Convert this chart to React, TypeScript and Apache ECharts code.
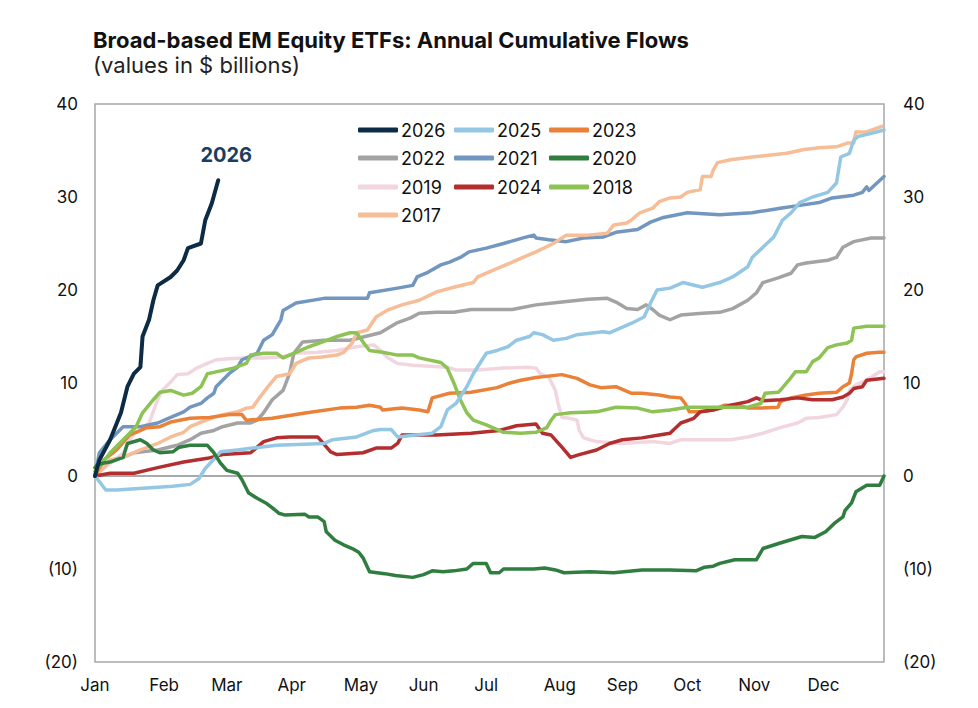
import { useEffect, useRef } from "react";
import * as echarts from "echarts";

type Pt = [number, number];

// day of year, cumulative flows ($bn)
const y2026: Pt[] = [
  [0, 0], [2, 1.7], [7, 3.9], [12, 6.8], [15, 9.6], [18, 11], [21, 11.7], [22, 15],
  [25, 16.8], [27, 18.9], [29, 20.5], [35, 21.4], [38, 22.1], [41, 23.2], [43, 24.5],
  [49, 25], [51, 27.5], [54, 29.3], [57, 31.8],
];

const y2025: Pt[] = [
  [0, 0], [5, -1.5], [10, -1.5], [36, -1.1], [44, -0.9], [48, -0.3], [51, 0.8], [55, 1.8],
  [58, 2.6], [66, 2.8], [73, 3], [84, 3.3], [106, 3.5], [110, 3.9], [121, 4.2], [129, 4.9],
  [132, 5], [137, 5], [140, 4.2], [156, 4.6], [160, 5.3], [163, 7.1], [167, 7.8], [172, 9.6],
  [175, 11], [178, 12.1], [181, 13.2], [186, 13.5], [191, 13.9], [195, 14.6], [201, 15],
  [203, 15.4], [207, 15.2], [212, 14.6], [218, 14.8], [223, 15.2], [235, 15.5], [238, 15.4],
  [243, 15.9], [248, 16.4], [254, 17.1], [257, 18.6], [260, 20], [266, 20.2], [272, 20.8],
  [281, 20.3], [289, 20.8], [295, 21.4], [302, 22.5], [304, 23.5], [309, 24.6], [314, 25.7],
  [318, 27.5], [322, 28.3], [326, 29.4], [332, 30], [339, 30.5], [343, 31.5], [345, 34.3],
  [349, 34.7], [351, 36.1], [353, 36.5], [360, 36.9], [365, 37.2],
];

const y2024: Pt[] = [
  [0, 0], [7, 0.3], [18, 0.3], [29, 0.9], [41, 1.5], [52, 1.9], [59, 2.3], [72, 2.5],
  [78, 3.7], [84, 4.1], [90, 4.2], [103, 4.2], [109, 2.6], [112, 2.3], [124, 2.5], [130, 3],
  [137, 3], [140, 3.5], [142, 4.4], [158, 4.4], [174, 4.6], [187, 4.9], [195, 5.4], [204, 5.6],
  [207, 4.6], [211, 4.4], [216, 3.1], [220, 2], [224, 2.3], [232, 2.8], [238, 3.5], [244, 3.9],
  [253, 4.1], [261, 4.4], [266, 4.6], [271, 5.7], [277, 6.2], [280, 6.9], [286, 7.1],
  [294, 7.6], [302, 8], [306, 8.4], [309, 8.1], [317, 8.2], [325, 8.4], [332, 8.2], [341, 8.2],
  [346, 8.5], [349, 8.9], [351, 9.4], [355, 9.6], [357, 10.3], [361, 10.4], [365, 10.5],
];

const y2023: Pt[] = [
  [0, 0], [4, 1.7], [10, 2.8], [16, 4.4], [24, 5.2], [30, 5.3], [35, 5.8], [44, 6.2],
  [53, 6.3], [62, 6.6], [68, 6.6], [70, 6], [82, 6.2], [98, 6.8], [113, 7.3], [121, 7.4],
  [127, 7.6], [132, 7.4], [133, 7.1], [142, 7.3], [150, 7.1], [154, 6.9], [156, 8.4],
  [164, 8.9], [174, 9], [186, 9.5], [192, 10], [197, 10.3], [204, 10.6], [216, 10.9],
  [223, 10.5], [229, 9.8], [234, 9.5], [241, 9.6], [248, 8.9], [253, 8.9], [261, 8.7],
  [266, 8.5], [271, 8.4], [273, 7.8], [275, 6.9], [280, 6.9], [286, 7.1], [291, 7.6],
  [298, 7.6], [302, 7.3], [308, 7.3], [316, 7.4], [317, 8], [322, 8.4], [329, 8.7],
  [335, 8.9], [343, 9], [346, 9.6], [349, 10], [350, 11], [351, 12.5], [352, 12.8],
  [357, 13.2], [363, 13.3], [365, 13.3],
];

const y2022: Pt[] = [
  [0, 0], [7, 1.7], [13, 2], [18, 2.5], [29, 2.8], [38, 3.3], [44, 3.9], [49, 4.6], [55, 4.9],
  [59, 5.3], [66, 5.7], [72, 5.7], [75, 6], [78, 6.8], [82, 8.2], [87, 9.2], [90, 11],
  [92, 13.2], [96, 14.4], [106, 14.6], [118, 14.6], [132, 15.4], [140, 16.5], [146, 17],
  [150, 17.5], [158, 17.6], [166, 17.6], [174, 17.9], [193, 17.9], [204, 18.4], [216, 18.7],
  [228, 19], [237, 19.1], [241, 18.7], [246, 18], [251, 17.9], [255, 18.4], [258, 17.9],
  [261, 17.3], [266, 16.8], [271, 17.3], [281, 17.5], [289, 17.6], [295, 18], [302, 18.9],
  [306, 19.7], [309, 20.8], [316, 21.3], [322, 21.8], [325, 22.7], [329, 22.9], [339, 23.2],
  [343, 23.5], [346, 24.6], [351, 25.2], [359, 25.6], [365, 25.6],
];

const y2021: Pt[] = [
  [0, 0], [2, 2.5], [7, 3.9], [13, 5.3], [21, 5.3], [29, 5.7], [35, 6.3], [41, 6.9], [44, 7.4],
  [49, 7.8], [52, 8.4], [55, 8.9], [56, 9.6], [59, 10.3], [62, 11], [66, 11.7], [68, 12.5],
  [75, 13.2], [78, 14.6], [82, 15.2], [86, 16.8], [87, 17.8], [93, 18.6], [106, 19.1],
  [126, 19.1], [127, 19.7], [140, 20.2], [147, 20.5], [149, 21.4], [154, 21.9], [160, 22.7],
  [164, 23], [169, 23.5], [173, 24.1], [181, 24.5], [189, 25], [198, 25.6], [203, 25.9],
  [204, 25.6], [210, 25.4], [218, 25.2], [226, 25.6], [235, 25.7], [241, 26.2], [251, 26.5],
  [257, 27.3], [263, 27.8], [274, 28.3], [289, 28.1], [304, 28.3], [317, 28.8], [326, 29.1],
  [335, 29.4], [341, 29.9], [351, 30.2], [355, 30.5], [357, 31.1], [358, 30.7], [365, 32.2],
];

const y2020: Pt[] = [
  [0, 0.9], [1, 1.2], [4, 1.4], [7, 1.5], [13, 2], [15, 3.5], [21, 3.9], [24, 3.5], [27, 2.8],
  [30, 2.5], [36, 2.6], [39, 3.1], [44, 3.3], [52, 3.3], [55, 2.5], [58, 1.4], [61, 0.6],
  [66, 0.3], [68, -0.4], [71, -1.8], [75, -2.4], [79, -2.9], [83, -3.6], [85, -4], [88, -4.2],
  [97, -4.1], [99, -4.4], [103, -4.4], [106, -4.9], [107, -6], [111, -6.9], [115, -7.4],
  [119, -7.8], [122, -8.2], [124, -8.8], [127, -10.3], [134, -10.5], [139, -10.7],
  [147, -10.9], [152, -10.6], [156, -10.2], [161, -10.3], [166, -10.2], [172, -10],
  [175, -9.4], [181, -9.4], [183, -10.4], [187, -10.4], [189, -10], [203, -10], [208, -9.9],
  [213, -10.1], [217, -10.4], [229, -10.3], [240, -10.4], [253, -10.1], [266, -10.1],
  [278, -10.2], [282, -9.8], [286, -9.7], [289, -9.4], [296, -9], [306, -9], [309, -7.8],
  [313, -7.5], [317, -7.2], [327, -6.5], [333, -6.6], [338, -6], [342, -5.1], [346, -4.4],
  [347, -3.7], [350, -2.9], [352, -1.7], [357, -1], [363, -1], [365, 0],
];

const y2019: Pt[] = [
  [0, 0], [13, 2.5], [18, 4.6], [21, 4.9], [25, 5.7], [29, 8.2], [31, 9.2], [35, 10.1],
  [38, 10.9], [43, 11], [47, 11.6], [52, 12.1], [56, 12.5], [62, 12.6], [70, 12.7], [78, 12.7],
  [86, 12.8], [93, 13.2], [103, 13.3], [112, 13.5], [121, 13.9], [129, 14.1], [132, 13.5],
  [135, 12.8], [140, 12.1], [147, 11.9], [163, 11.7], [167, 11.4], [177, 11.4], [189, 11.6],
  [200, 11.7], [204, 11.6], [206, 11], [210, 10.6], [213, 9.2], [214, 8], [216, 6.3],
  [220, 6.2], [223, 6], [224, 4.9], [226, 4.1], [232, 3.7], [243, 3.5], [258, 3.7], [266, 3.5],
  [271, 3.9], [294, 3.9], [302, 4.2], [309, 4.6], [317, 5.2], [325, 5.7], [329, 6.2],
  [335, 6.3], [343, 6.6], [346, 7.4], [348, 8.2], [349, 9.2], [352, 9.8], [357, 10.3],
  [363, 11.2], [365, 11.2],
];

const y2018: Pt[] = [
  [0, 0.5], [2, 1], [7, 2.5], [13, 3.9], [19, 5.3], [22, 6.8], [27, 8.2], [30, 9], [35, 9.2],
  [41, 8.7], [45, 8.9], [49, 9.6], [52, 11], [56, 11.2], [64, 11.6], [70, 12.1], [72, 13],
  [78, 13.2], [84, 13.2], [87, 12.7], [93, 13.3], [99, 13.9], [105, 14.4], [112, 15],
  [118, 15.4], [121, 15.4], [124, 14.4], [127, 13.5], [133, 13.3], [140, 13], [147, 13],
  [150, 12.7], [160, 12.2], [163, 11.6], [166, 10], [169, 8.2], [172, 6.8], [175, 6],
  [181, 5.5], [189, 4.7], [197, 4.6], [204, 4.7], [209, 5.2], [211, 6], [213, 6.6], [220, 6.8],
  [232, 6.9], [241, 7.4], [251, 7.3], [258, 6.9], [266, 7.1], [274, 7.4], [289, 7.4],
  [302, 7.4], [308, 7.8], [310, 8.9], [316, 9], [317, 9.2], [321, 10.3], [324, 11.2],
  [329, 11.2], [332, 12.3], [335, 12.7], [339, 13.8], [343, 14.1], [348, 14.3], [350, 14.6],
  [351, 15.9], [357, 16.1], [365, 16.1],
];

const y2017: Pt[] = [
  [0, 0], [7, 1.7], [13, 2], [21, 2.8], [29, 3.5], [35, 4.2], [41, 4.7], [44, 5.3], [49, 5.8],
  [55, 6.3], [59, 6.6], [66, 6.9], [70, 7.3], [73, 7.4], [76, 8.4], [80, 9.6], [84, 10.7],
  [90, 11], [93, 12.1], [99, 12.7], [105, 12.8], [112, 13], [115, 13.3], [119, 14.3],
  [121, 15.4], [126, 15.7], [130, 17.1], [135, 17.8], [142, 18.4], [150, 18.9], [158, 19.8],
  [166, 20.3], [175, 20.8], [177, 21.4], [184, 22.1], [192, 22.9], [198, 23.5], [204, 24.1],
  [212, 25], [218, 25.9], [228, 25.9], [237, 26.1], [240, 27], [246, 27.2], [248, 27.5],
  [252, 28.3], [258, 28.8], [261, 29.5], [266, 29.9], [271, 30], [274, 30.5], [280, 30.8],
  [281, 32.2], [285, 32.2], [286, 32.9], [288, 33.7], [294, 34], [304, 34.3], [320, 34.7],
  [328, 35.1], [335, 35.3], [343, 35.4], [348, 35.8], [351, 35.8], [352, 37], [357, 37],
  [364, 37.6],
];

const LEGEND_ORDER = ["2026", "2025", "2023", "2022", "2021", "2020", "2019", "2024", "2018", "2017"];
const MONTH_LABELS = ["Jan", "Feb", "Mar", "Apr", "May", "Jun", "Jul", "Aug", "Sep", "Oct", "Nov", "Dec"];
const MONTH_LABEL_DAYS = [0, 32, 61, 91, 123, 152, 181, 215, 244, 274, 305, 337];

const COLORS: Record<string, string> = {
  "2026": "#0c2c45",
  "2025": "#94c7e4",
  "2023": "#ea8138",
  "2022": "#a3a3a3",
  "2021": "#7197c0",
  "2020": "#2f7d3f",
  "2019": "#f2d6df",
  "2024": "#b32e2e",
  "2018": "#8dc254",
  "2017": "#f6bd97",
};

// drawing order (first is at the back)
const DRAW: [string, Pt[]][] = [
  ["2019", y2019],
  ["2021", y2021],
  ["2022", y2022],
  ["2017", y2017],
  ["2023", y2023],
  ["2024", y2024],
  ["2018", y2018],
  ["2025", y2025],
  ["2020", y2020],
  ["2026", y2026],
];

const FONT = "Inter";

const App = () => {
  const chartRef = useRef<HTMLDivElement>(null);

  useEffect(() => {
    if (!chartRef.current) return;
    const chart = echarts.init(chartRef.current, null, { renderer: "svg" });

    const legendCols = [358, 454, 549];
    const legendRows = [130, 158, 187, 215];
    const legends = LEGEND_ORDER.map((name, i) => ({
      data: [name],
      left: legendCols[i % 3],
      top: legendRows[Math.floor(i / 3)] - 10,
      icon: "roundRect",
      itemWidth: 40,
      itemHeight: 5,
      padding: 0,
      selectedMode: false,
      textStyle: { fontFamily: FONT, fontSize: 18, color: "#111", lineHeight: 20, padding: [0, 0, 0, -2] },
    }));

    const negFmt = (v: number) => (v < 0 ? `(${-v})` : `${v}`);
    const yAxisBase = {
      type: "value" as const,
      min: -20,
      max: 40,
      interval: 10,
      splitLine: { show: false },
      axisLine: { show: false },
      axisTick: { show: false },
    };

    const series: any[] = DRAW.map(([name, data]) => ({
      name,
      type: "line",
      data,
      symbol: "none",
      showSymbol: false,
      lineStyle: { color: COLORS[name], width: name === "2026" ? 4 : 3.5, cap: "round", join: "round" },
      itemStyle: { color: COLORS[name] },
      z: 2,
    }));

    // zero line
    series[0].markLine = {
      silent: true,
      symbol: "none",
      label: { show: false },
      lineStyle: { color: "#8c8c8c", type: "solid", width: 1.5 },
      data: [{ yAxis: 0 }],
      z: 1,
    };

    // "2026" tag above the end of its line
    const last = y2026[y2026.length - 1];
    series[series.length - 1].markPoint = {
      silent: true,
      symbol: "circle",
      symbolSize: 1,
      itemStyle: { color: "rgba(0,0,0,0)" },
      label: {
        show: true,
        position: "inside",
        formatter: "2026",
        offset: [8, -25],
        fontFamily: FONT,
        fontSize: 20,
        fontWeight: 700,
        color: "#1b3d5e",
      },
      data: [{ coord: last }],
    };

    chart.setOption({
      animation: false,
      textStyle: { fontFamily: FONT },
      title: {
        text: "Broad-based EM Equity ETFs: Annual Cumulative Flows",
        subtext: "(values in $ billions)",
        left: 93,
        top: 27,
        padding: 0,
        itemGap: 0,
        textStyle: { fontFamily: FONT, fontSize: 22, fontWeight: 700, color: "#111", lineHeight: 25 },
        subtextStyle: { fontFamily: FONT, fontSize: 22, color: "#222", lineHeight: 25 },
      },
      legend: legends,
      grid: {
        left: 95,
        right: 94,
        top: 104,
        bottom: 46,
        show: true,
        borderColor: "#a6a6a6",
        borderWidth: 1.5,
      },
      xAxis: {
        type: "value",
        min: 0,
        max: 365,
        splitLine: { show: false },
        axisLine: { show: false },
        axisTick: { show: false },
        axisLabel: {
          customValues: MONTH_LABEL_DAYS,
          formatter: (v: number) => MONTH_LABELS[MONTH_LABEL_DAYS.indexOf(v)] ?? "",
          margin: 14,
          fontFamily: FONT,
          fontSize: 17,
          color: "#111",
        },
      },
      yAxis: [
        {
          ...yAxisBase,
          position: "left",
          axisLabel: { formatter: negFmt, margin: 17, fontFamily: FONT, fontSize: 17, color: "#111" },
        },
        {
          ...yAxisBase,
          position: "right",
          axisLabel: { formatter: negFmt, margin: 19, fontFamily: FONT, fontSize: 17, color: "#111" },
        },
      ],
      series,
    });

    return () => {
      chart.dispose();
    };
  }, []);

  return (
    <div
      ref={chartRef}
      style={{ position: "absolute", left: 0, top: 0, width: "978px", height: "708px", background: "#fff" }}
    />
  );
};

export default App;
